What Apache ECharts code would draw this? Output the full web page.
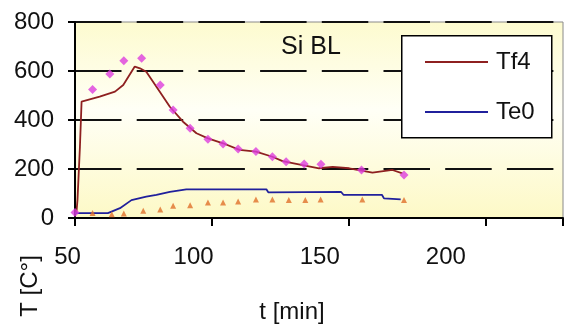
<!DOCTYPE html>
<html>
<head>
<meta charset="utf-8">
<script src="https://cdn.jsdelivr.net/npm/echarts@6/dist/echarts.min.js"></script>
<style>
  html, body { margin: 0; padding: 0; background: #fff; }
  #chart { width: 566px; height: 329px; }
</style>
</head>
<body>
<div id="chart"></div>
<script>
// Tf4 simulated line [t, T]
const tf4Line = [
  [50.5, 20], [50.9, 73], [51.8, 291], [52.4, 475], [59, 495], [64.6, 516],
  [67.6, 543], [71.8, 618], [73.7, 611], [76, 597], [79.7, 536], [84.6, 454],
  [89.4, 393], [94.3, 346], [98.5, 325], [104, 305], [110, 278], [116, 271],
  [122, 250], [125.7, 232], [133, 216], [139, 203], [144, 209], [150, 203],
  [158.5, 185], [165.8, 196], [169.4, 182]
]
// Tf4 measured points
const tf4Meas = [
  [50, 22], [56.4, 525], [62.7, 588], [67.8, 642], [74.3, 652], [81.1, 543],
  [85.8, 441], [92, 366], [98.5, 321], [104, 302], [109.5, 282], [116, 271],
  [122, 250], [127, 230], [133.6, 220], [139.7, 219], [154.5, 196], [170, 176]
]
// Te0 simulated line
const te0Line = [
  [50, 20], [62, 20], [66.4, 40], [70.6, 73], [76, 87], [79.7, 94],
  [84.6, 107], [90.6, 117], [119.8, 117], [120.5, 105], [147, 107],
  [148, 94], [162, 94], [162.7, 80], [168.8, 76]
]
// Te0 measured points
const te0Meas = [
  [56.4, 20], [63.4, 15], [67.8, 18], [74.9, 30], [81.1, 35], [85.8, 50],
  [92, 52], [98.5, 63], [104, 63], [109.5, 67], [116, 76], [122, 76],
  [128, 73], [134, 73], [139.6, 76], [154.8, 76], [170, 73]
]
const xTicks = [50, 100, 150, 200]
const yTicks = [0, 200, 400, 600, 800]

const chart = echarts.init(document.getElementById('chart'))
const font = 'Liberation Sans, Arial, sans-serif'
const txt = '#111'

chart.setOption({
  animation: false,
  grid: [
    {
      left: 75, top: 22, right: 3, bottom: 111,
      show: true,
      borderColor: '#8a8a8a',
      borderWidth: 1,
      backgroundColor: {
        type: 'linear', x: 0, y: 0, x2: 0, y2: 1,
        colorStops: [
          { offset: 0, color: '#fdfbcf' },
          { offset: 0.45, color: '#fffff6' },
          { offset: 1, color: '#fdf9c6' }
        ]
      }
    },
    // the tick labels of the x axis sit on a slightly narrower scale
    { left: 67.5, top: 22, width: 449, bottom: 111 }
  ],
  title: {
    text: 'Si BL',
    left: 306, top: 30,
    textAlign: 'center',
    textStyle: { fontFamily: font, fontSize: 25, fontWeight: 'normal', color: txt }
  },
  legend: {
    data: ['Tf4', 'Te0'],
    orient: 'vertical',
    left: 425, top: 50,
    z: 20,
    padding: 0,
    itemGap: 26,
    itemWidth: 63,
    itemHeight: 2,
    icon: 'rect',
    textStyle: { fontFamily: font, fontSize: 24, color: txt, padding: [0, 0, 0, 3] }
  },
  xAxis: [
    {
      type: 'value',
      min: xTicks[0], max: 228, interval: 50,
      axisLine: { show: true, onZero: false, lineStyle: { color: '#000', width: 2 } },
      axisTick: { show: true, length: 8, lineStyle: { color: '#000', width: 2 } },
      axisLabel: { show: false },
      splitLine: { show: false }
    },
    {
      type: 'value', gridIndex: 1,
      min: xTicks[0], max: 228, interval: 50,
      axisLine: { show: false },
      axisTick: { show: false },
      axisLabel: { showMaxLabel: false, margin: 27, fontFamily: font, fontSize: 24, color: txt },
      splitLine: { show: false }
    }
  ],
  yAxis: [
    {
      type: 'value',
      min: yTicks[0], max: yTicks[yTicks.length - 1], interval: 200,
      axisLine: { show: true, lineStyle: { color: '#000', width: 2 } },
      axisTick: { show: true, length: 7, lineStyle: { color: '#000', width: 2 } },
      axisLabel: { margin: 21, fontFamily: font, fontSize: 24, color: txt },
      splitLine: {
        show: true,
        lineStyle: { color: '#111', width: 2, type: [46.5, 15.2] }
      }
    },
    { type: 'value', gridIndex: 1, min: 0, max: 800, show: false }
  ],
  graphic: [
    {
      type: 'rect', left: 401, top: 35, z: 5,
      shape: { width: 150, height: 102 },
      style: { fill: '#fff', stroke: '#000', lineWidth: 1.5 }
    },
    {
      type: 'text', x: 30, y: 286, rotation: Math.PI / 2,
      style: { text: 'T [C°]', font: '24px ' + font, fill: txt, align: 'center', verticalAlign: 'middle' }
    },
    {
      type: 'text', x: 292, y: 312,
      style: { text: 't [min]', font: '24px ' + font, fill: txt, align: 'center', verticalAlign: 'middle' }
    }
  ],
  series: [
    {
      name: 'Tf4', type: 'line', xAxisIndex: 0, yAxisIndex: 0, data: tf4Line,
      showSymbol: false, symbol: 'none',
      lineStyle: { color: '#8e2020', width: 1.8 }, itemStyle: { color: '#8e2020' }, z: 3
    },
    {
      name: 'Te0', type: 'line', xAxisIndex: 0, yAxisIndex: 0, data: te0Line,
      showSymbol: false, symbol: 'none',
      lineStyle: { color: '#20209c', width: 1.8 }, itemStyle: { color: '#20209c' }, z: 3
    },
    {
      name: 'Tf4 meas', type: 'scatter', xAxisIndex: 0, yAxisIndex: 0, data: tf4Meas,
      symbol: 'diamond', symbolSize: 9,
      itemStyle: { color: '#dd3ddd' }, z: 4
    },
    {
      name: 'Te0 meas', type: 'scatter', xAxisIndex: 0, yAxisIndex: 0, data: te0Meas,
      symbol: 'triangle', symbolSize: 6,
      itemStyle: { color: '#e0702a' }, z: 4
    }
  ]
})
</script>
</body>
</html>
